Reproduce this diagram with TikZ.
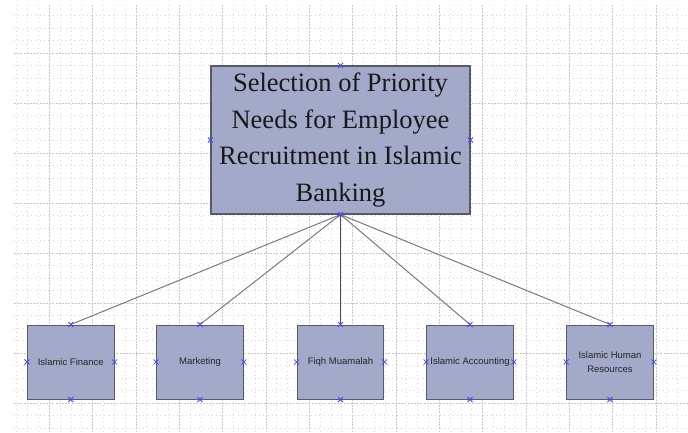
\documentclass[tikz,border=0pt]{standalone}
\usepackage{fontspec}
\setmainfont{Liberation Serif}
\newfontfamily\arialfont{Liberation Sans}
\usepackage{tikz}
\usetikzlibrary{positioning}

\definecolor{boxfill}{RGB}{162,169,201}
\definecolor{boxline}{RGB}{88,88,112}
\definecolor{linkgray}{RGB}{120,120,138}
\definecolor{linkdark}{RGB}{68,68,108}
\definecolor{markblue}{RGB}{70,70,255}
\definecolor{gridminor}{RGB}{214,214,214}
\definecolor{gridmajor}{RGB}{200,200,200}

\begin{document}
\begin{tikzpicture}[x=1pt,y=-1pt]

\tikzset{
	topbox/.style={draw=boxline, line width=1.1pt, fill=boxfill,
		minimum width=259pt, minimum height=148pt,
		align=center, inner sep=0pt,
		font=\fontsize{26.5}{36.5}\selectfont, text=black!90},
	needbox/.style={draw=boxline, line width=1pt, fill=boxfill,
		minimum width=86.7pt, minimum height=74pt,
		align=center, inner sep=0pt,
		font=\arialfont\fontsize{9.5}{13.3}\selectfont, text=black!85},
	link/.style={draw=linkgray, line width=1pt},
	xmark/.style={draw=markblue, line width=0.8pt},
	minorline/.style={draw=gridminor, line width=0.7pt, dash pattern=on 1pt off 3.3pt},
	majorline/.style={draw=gridmajor, line width=0.7pt, dash pattern=on 2pt off 1.2pt}
}

\useasboundingbox (0,0) rectangle (688,432);

% grid
\foreach \k in {0,...,62} {
	\pgfmathsetmacro{\gx}{16.83+10.833*\k}
	\pgfmathtruncatemacro{\r}{mod(\k+1,4)}
	\ifnum\r=0
		\draw[majorline] (\gx,5) -- (\gx,432);
	\else
		\draw[minorline] (\gx,5) -- (\gx,432);
	\fi
}
\foreach \k in {1,...,34} {
	\pgfmathsetmacro{\gy}{3.33+12.5*\k}
	\pgfmathtruncatemacro{\r}{mod(\k,4)}
	\ifnum\r=0
		\draw[majorline] (14,\gy) -- (688,\gy);
	\else
		\draw[minorline] (14,\gy) -- (688,\gy);
	\fi
}

% boxes
\node[topbox] (rootbox) at (340.5,140) {Selection of Priority\\Needs for Employee\\Recruitment in Islamic\\Banking};

\node[needbox] (finance) at (70.8,362) {Islamic Finance};
\node[needbox] (marketing) at (200,362) {Marketing};
\node[needbox] (fiqh) at (340.5,362) {Fiqh Muamalah};
\node[needbox] (accounting) at (470,362) {Islamic Accounting};
\node[needbox] (hr) at (610,362) {Islamic Human\\Resources};

% links
\foreach \n in {finance,marketing,accounting,hr}
	\draw[link] (rootbox.south) -- (\n.north);
\draw[link, draw=linkdark] (rootbox.south) -- (fiqh.north);

% connection marks
\foreach \n in {rootbox,finance,marketing,fiqh,accounting,hr}
	\foreach \a in {north,south,east,west}
		\draw[xmark] (\n.\a) +(-2.5,-2.5) -- +(2.5,2.5) +(-2.5,2.5) -- +(2.5,-2.5);

\end{tikzpicture}
\end{document}
